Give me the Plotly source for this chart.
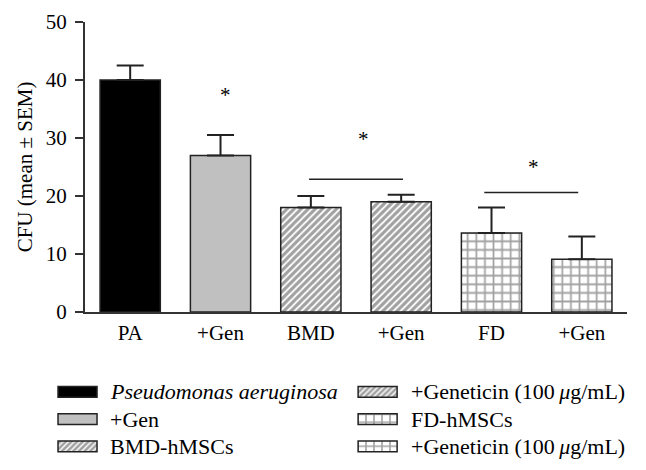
import plotly.graph_objects as go

# ---- data ----
positions = [0, 1, 2, 3, 4, 5]
tick_labels = ["PA", "+Gen", "BMD", "+Gen", "FD", "+Gen"]
means = [40.0, 27.0, 18.0, 19.0, 13.6, 9.1]
sem = [2.5, 3.5, 2.0, 1.2, 4.4, 3.9]

legend_names = [
    "<i>Pseudomonas aeruginosa</i>",
    "+Gen",
    "BMD-hMSCs",
    "+Geneticin (100\u2009<i>μ</i>g/mL)",
    "FD-hMSCs",
    "+Geneticin (100\u2009<i>μ</i>g/mL)",
]

# significance marks
star_x = [1.05, 2.58, 4.46]
star_y = [37.4, 29.8, 25.0]
bracket_x0 = [1.98, 3.92]
bracket_x1 = [3.02, 4.96]
bracket_y = [22.9, 20.6]

# ---- styles ----
fill_colors = ["black", "#c0c0c0", "white", "white", "white", "white"]
pattern_shapes = ["", "", "/", "/", "+", "+"]
pattern_sizes = [6, 6, 5, 5, 8.6, 8.6]
pattern_solidity = [0.3, 0.3, 0.65, 0.65, 0.36, 0.36]
edge = "#222222"
FONT = "Liberation Serif"
FS_TICK = 21
FS_TEXT = 22

fig = go.Figure()

fig.add_trace(go.Bar(
    x=positions, y=means,
    width=0.667,
    marker=dict(
        color=fill_colors,
        line=dict(color=edge, width=1.5),
        pattern=dict(shape=pattern_shapes, fgcolor="black", bgcolor=fill_colors,
                     size=pattern_sizes, solidity=pattern_solidity),
    ),
    error_y=dict(type="data", array=sem, arrayminus=[0] * len(sem), symmetric=False,
                 color=edge, thickness=2, width=13.5),
    showlegend=False,
    xaxis="x", yaxis="y",
))

# custom legend (swatches as horizontal bars in a small legend panel)
col_start = [0.0139, 0.534]
text_start = [0.101, 0.622]
swatch_len = 0.0676
leg_rows = [i % 3 for i in range(len(legend_names))]
leg_cols = [i // 3 for i in range(len(legend_names))]
fig.add_trace(go.Bar(
    orientation="h",
    y=leg_rows,
    x=[swatch_len] * len(legend_names),
    base=[col_start[c] for c in leg_cols],
    width=0.4,
    marker=dict(
        color=fill_colors,
        line=dict(color=edge, width=1.5),
        pattern=dict(shape=pattern_shapes, fgcolor="black", bgcolor=fill_colors,
                     size=[4 if s == "/" else (8 if s == "+" else 6) for s in pattern_shapes],
                     solidity=pattern_solidity),
    ),
    showlegend=False, hoverinfo="skip",
    xaxis="x2", yaxis="y2",
))

annotations = []
for name, r, c in zip(legend_names, leg_rows, leg_cols):
    annotations.append(dict(x=text_start[c], y=r, xref="x2", yref="y2", text=name,
                            showarrow=False, xanchor="left", yanchor="middle",
                            font=dict(family=FONT, size=FS_TEXT, color="black")))
for sx, sy in zip(star_x, star_y):
    annotations.append(dict(x=sx, y=sy, xref="x", yref="y", text="*", showarrow=False,
                            xanchor="center", yanchor="middle",
                            font=dict(family=FONT, size=21, color="black")))

shapes = []
for x0, x1, yy in zip(bracket_x0, bracket_x1, bracket_y):
    shapes.append(dict(type="line", xref="x", yref="y", x0=x0, x1=x1, y0=yy, y1=yy,
                       line=dict(color=edge, width=1.5)))

# the page body adds an 8px offset, so the figure is sized to fit the window
fig.update_layout(
    width=638, height=462,
    margin=dict(l=42, r=19, t=14, b=10, autoexpand=False),
    paper_bgcolor="white", plot_bgcolor="white",
    font=dict(family=FONT, size=FS_TICK, color="black"),
    bargap=0.333,
    xaxis=dict(domain=[0.0607, 1], range=[-0.5, 5.5], anchor="y", automargin=False,
               tickvals=positions, ticktext=tick_labels, ticks="",
               showline=True, linecolor="#333333", linewidth=2,
               showgrid=False, zeroline=False, ticklabelstandoff=1,
               tickfont=dict(family=FONT, size=FS_TICK, color="black")),
    yaxis=dict(domain=[0.338, 1], range=[0, 50], anchor="x", automargin=False,
               tickvals=[0, 10, 20, 30, 40, 50], ticks="outside", ticklen=8,
               tickwidth=2, tickcolor="#333333",
               showline=True, linecolor="#333333", linewidth=2,
               showgrid=False, zeroline=False, ticklabelstandoff=4,
               tickfont=dict(family=FONT, size=FS_TICK, color="black")),
    xaxis2=dict(domain=[0, 1], range=[0, 1], anchor="y2", visible=False,
                fixedrange=True, automargin=False),
    yaxis2=dict(domain=[0, 0.1866], range=[2.5, -0.5], anchor="x2", visible=False,
                fixedrange=True, automargin=False),
    annotations=annotations,
    shapes=shapes,
)
fig.update_yaxes(title=dict(text="CFU (mean ± SEM)", standoff=7,
                            font=dict(family=FONT, size=21, color="black")),
                 selector=dict(anchor="x"))

fig.write_html("out.html")
